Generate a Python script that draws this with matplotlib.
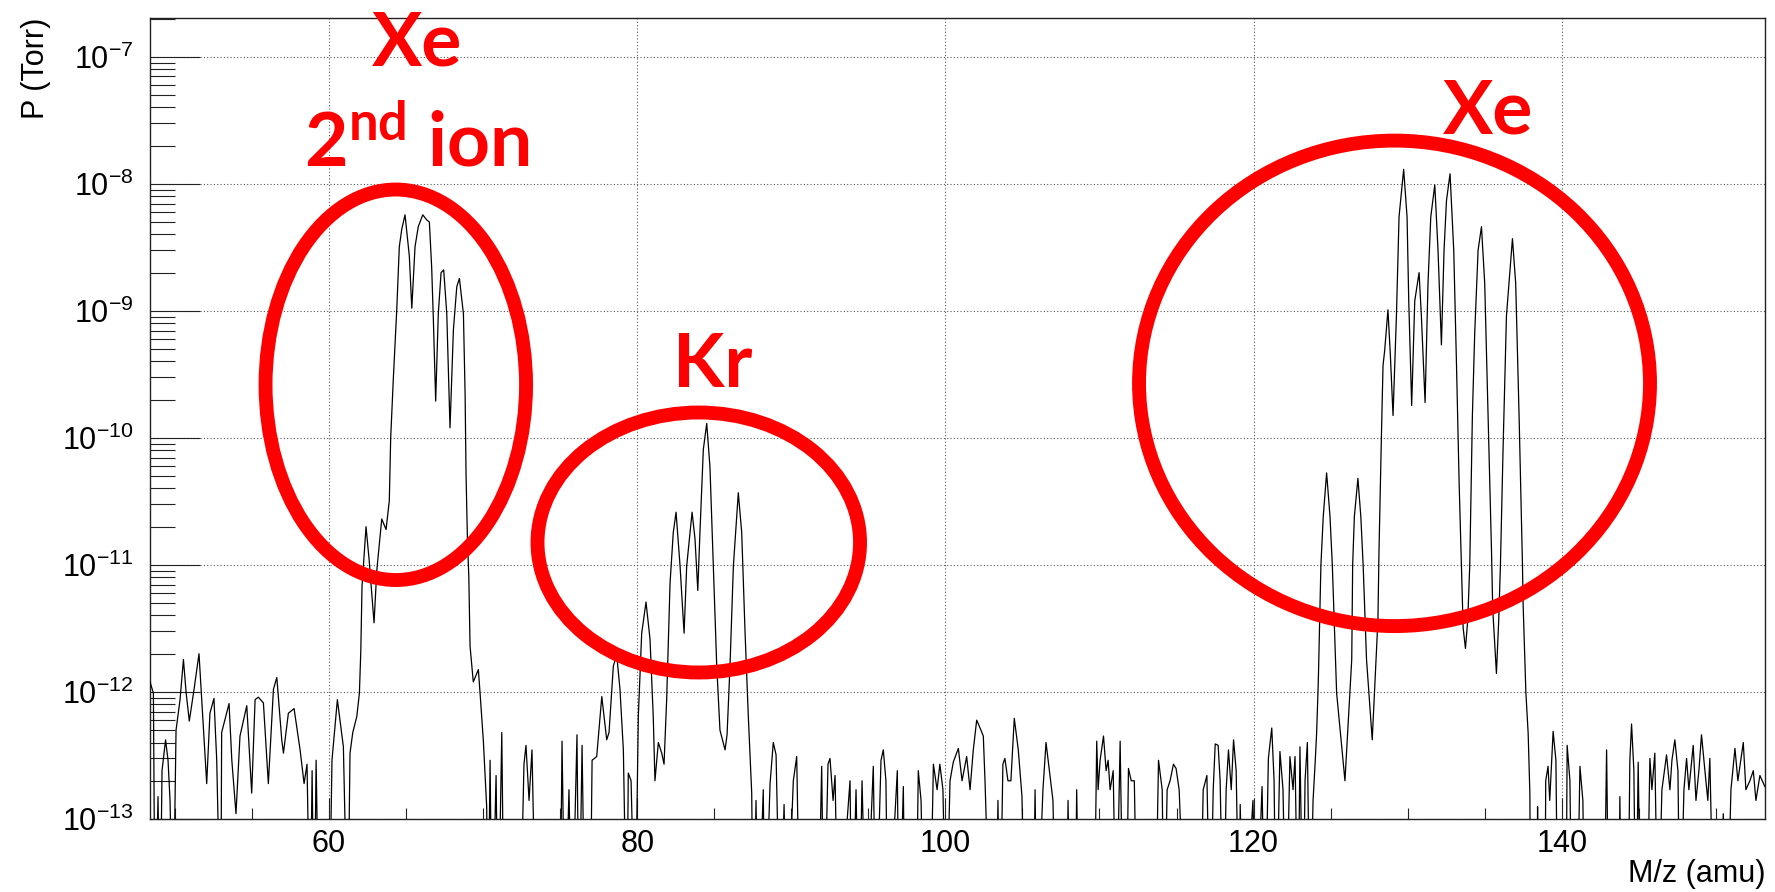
import matplotlib
matplotlib.use("Agg")
import matplotlib.pyplot as plt
import numpy as np
from matplotlib.patches import Ellipse
from matplotlib.ticker import LogLocator, MultipleLocator, NullFormatter

plt.rcParams["font.family"] = ["Liberation Sans", "DejaVu Sans"]
plt.rcParams["mathtext.default"] = "regular"
plt.rcParams["mathtext.fontset"] = "custom"
plt.rcParams["mathtext.bf"] = "Lato:bold"

# Mass spectrum, split by region.
# P in Torr; 1e-14 marks points that fall below the axis (off scale).
bg_mz = [48.38, 48.60, 48.71, 48.90, 49.03, 49.16, 49.39, 49.55, 49.68, 49.87,
         50.07, 50.33, 50.55, 50.72, 50.93, 51.24, 51.56, 51.84, 52.06, 52.27,
         52.53, 52.71, 52.97, 53.03, 53.51, 53.69, 53.96, 54.22, 54.66, 54.98,
         55.20, 55.41, 55.74, 56.06, 56.39, 56.61, 56.93, 57.04, 57.36, 57.73,
         58.12, 58.38, 58.57, 58.77, 58.90, 59.03, 59.16, 59.35, 60.00, 60.19,
         60.54, 60.93, 61.21, 61.36, 61.54, 61.80]
bg_p = [1.2e-12, 9.8e-13, 1e-14, 1.5e-13, 1e-14, 2.4e-13, 4.2e-13, 2.9e-13, 1.4e-13, 1e-14,
        5.0e-13, 8.7e-13, 1.8e-12, 1.0e-12, 5.9e-13, 1.05e-12, 2.0e-12, 5.3e-13, 1.9e-13, 6.8e-13,
        8.9e-13, 2.9e-13, 1e-14, 4.8e-13, 8.1e-13, 2.9e-13, 1.1e-13, 4.5e-13, 7.8e-13, 1.6e-13,
        8.7e-13, 9.1e-13, 8.2e-13, 1.9e-13, 1.05e-12, 1.3e-12, 4.2e-13, 3.3e-13, 6.8e-13, 7.4e-13,
        3.5e-13, 1.9e-13, 2.7e-13, 1e-14, 2.4e-13, 1e-14, 2.9e-13, 1e-14, 1e-14, 2.9e-13,
        8.7e-13, 3.7e-13, 1e-14, 3.3e-13, 4.8e-13, 6.4e-13]

xe2_mz = [61.97, 62.06, 62.14, 62.40, 62.60, 62.92, 63.10, 63.42, 63.70, 63.91,
          64.00, 64.17, 64.39, 64.56, 64.72, 64.93, 65.21, 65.37, 65.58, 65.79,
          66.08, 66.34, 66.51, 66.66, 66.77, 66.92, 67.09, 67.27, 67.44, 67.64,
          67.85, 68.07, 68.29, 68.46, 68.72, 68.83, 68.89, 68.98, 69.07, 69.15,
          69.36, 69.69, 69.80, 70.01, 70.23, 70.32, 70.45, 70.58, 70.84, 70.97]
xe2_p = [9.8e-13, 2.1e-12, 6.8e-12, 2.0e-11, 1.1e-11, 3.5e-12, 9.1e-12, 2.3e-11, 1.9e-11, 3.2e-11,
         1.0e-10, 2.9e-10, 1.0e-9, 3.2e-9, 4.4e-9, 5.7e-9, 2.7e-9, 1.05e-9, 3.2e-9, 4.6e-9,
         5.7e-9, 5.2e-9, 5.0e-9, 2.2e-9, 8.5e-10, 1.95e-10, 9.5e-10, 2.0e-9, 2.1e-9, 9.5e-10,
         1.2e-10, 7.1e-10, 1.55e-9, 1.8e-9, 9.5e-10, 2.2e-10, 5.2e-11, 1.6e-11, 8.1e-12, 2.3e-12,
         1.2e-12, 1.5e-12, 9.8e-13, 4.2e-13, 1.25e-13, 1e-14, 2.9e-13, 1e-14, 2.2e-13, 1e-14]

kr_mz = [71.21, 71.36, 72.39, 72.65, 72.78, 72.98, 73.17, 73.43, 74.99, 75.12,
         75.31, 75.57, 75.77, 76.09, 76.22, 76.42, 76.61, 76.94, 77.07, 77.37,
         77.70, 78.02, 78.17, 78.45, 78.67, 78.88, 79.10, 79.32, 79.42, 79.60,
         79.86, 80.07, 80.29, 80.57, 80.83, 81.04, 81.15, 81.37, 81.59, 81.74,
         81.91, 82.13, 82.34, 82.52, 82.78, 83.04, 83.21, 83.56, 83.75, 83.93,
         84.07, 84.29, 84.51, 84.72, 84.94, 85.16, 85.37, 85.70, 85.83, 86.02,
         86.24, 86.56, 86.78, 87.00, 87.21, 87.43, 87.53, 87.71, 87.84]
kr_p = [4.8e-13, 1e-14, 1e-14, 2.7e-13, 3.8e-13, 1.4e-13, 3.5e-13, 1e-14, 1e-14, 4.1e-13,
        1e-14, 1.7e-13, 1e-14, 4.6e-13, 1e-14, 3.8e-13, 1e-14, 1e-14, 2.9e-13, 3.1e-13,
        9.2e-13, 4.2e-13, 4.8e-13, 1.6e-12, 1.95e-12, 1.05e-12, 3.5e-13, 1e-14, 2.3e-13, 2.0e-13,
        1e-14, 6.4e-13, 2.9e-12, 5.1e-12, 2.6e-12, 6.4e-13, 2.0e-13, 4.0e-13, 3.3e-13, 2.7e-13,
        8.7e-13, 7.2e-12, 1.8e-11, 2.6e-11, 9.8e-12, 2.9e-12, 9.8e-12, 2.6e-11, 1.6e-11, 6.3e-12,
        1.8e-11, 8.1e-11, 1.3e-10, 5.9e-11, 9.8e-12, 1.6e-12, 5.0e-13, 3.5e-13, 4.6e-13, 1.6e-12,
        9.8e-12, 3.7e-11, 1.8e-11, 2.9e-12, 6.4e-13, 1.6e-13, 1e-14, 1.4e-13, 1e-14]

mid_mz = [88.18, 88.29, 88.62, 88.83, 89.01, 89.27, 89.53, 89.72, 90.13, 90.35,
          90.56, 91.73, 91.97, 92.12, 92.38, 92.51, 92.71, 92.84, 93.03, 93.81,
          93.94, 94.20, 94.39, 94.59, 94.85, 95.32, 95.49, 95.82, 95.97, 96.14,
          96.27, 96.88, 96.99, 97.27, 97.38, 98.09, 98.24, 98.42, 98.61, 99.00,
          99.22, 99.46, 99.64, 99.84, 100.04, 100.30, 100.51, 100.84, 101.08, 101.38,
          101.60, 101.81, 102.03, 102.25, 102.46, 102.57, 102.90, 103.28, 103.41, 103.54,
          103.73, 103.86, 104.06, 104.25, 104.47, 104.73, 104.97, 105.17, 105.69, 105.82,
          105.94, 106.33, 106.53, 106.79, 106.98, 107.18, 107.83, 107.96, 108.09, 108.41,
          108.52, 108.67, 109.65, 109.82, 109.91, 110.04, 110.26, 110.43, 110.56, 110.69,
          110.89, 111.08, 111.34, 111.54, 111.73, 111.88, 112.06, 112.26, 112.45, 113.62,
          113.83, 114.07, 114.20, 114.39, 114.58, 114.80, 114.97, 115.17, 115.56, 116.53,
          116.73, 116.97, 117.18, 117.38, 117.51, 117.70, 117.83, 118.03, 118.22, 118.37,
          118.55, 118.70, 118.87, 119.07, 119.13, 119.38, 119.96, 120.16, 120.55, 120.74,
          120.96, 121.18, 121.33, 121.46, 121.71, 121.91, 122.10, 122.36, 122.56, 122.69,
          122.88, 123.01, 123.21, 123.34, 123.49, 123.66, 123.86, 123.99]
mid_p = [1.7e-13, 1e-14, 1.9e-13, 4.0e-13, 3.2e-13, 1e-14, 1.3e-13, 1e-14, 2.0e-13, 3.1e-13,
         1e-14, 1e-14, 2.6e-13, 1e-14, 2.7e-13, 3.0e-13, 1.4e-13, 2.2e-13, 1e-14, 2.0e-13,
         1e-14, 1.7e-13, 1e-14, 2.0e-13, 1e-14, 2.6e-13, 1e-14, 2.9e-13, 3.5e-13, 2.0e-13,
         1e-14, 2.4e-13, 1e-14, 1.8e-13, 1e-14, 1e-14, 2.4e-13, 1.4e-13, 1e-14, 1e-14,
         2.7e-13, 1.7e-13, 2.7e-13, 1.7e-13, 1e-14, 2.0e-13, 2.8e-13, 3.6e-13, 2.0e-13, 3.1e-13,
         1.7e-13, 3.5e-13, 6.0e-13, 5.2e-13, 4.5e-13, 2.0e-13, 1e-14, 1e-14, 1.4e-13, 1e-14,
         2.7e-13, 3.0e-13, 2.0e-13, 2.0e-13, 6.2e-13, 3.5e-13, 1.5e-13, 1e-14, 1e-14, 1.7e-13,
         1e-14, 1.7e-13, 4.0e-13, 2.2e-13, 1.4e-13, 1e-14, 1e-14, 1.4e-13, 1e-14, 1e-14,
         1.7e-13, 1e-14, 1e-14, 4.1e-13, 1.7e-13, 2.9e-13, 4.5e-13, 2.4e-13, 2.9e-13, 1.7e-13,
         2.4e-13, 1e-14, 4.1e-13, 1e-14, 1e-14, 2.5e-13, 2.0e-13, 2.0e-13, 1e-14, 1e-14,
         2.9e-13, 1.7e-13, 1e-14, 1.7e-13, 2.0e-13, 2.7e-13, 2.5e-13, 1.7e-13, 1e-14, 1e-14,
         1.7e-13, 2.2e-13, 1e-14, 1.7e-13, 3.9e-13, 3.8e-13, 2.0e-13, 1e-14, 1.7e-13, 3.5e-13,
         1.7e-13, 4.2e-13, 2.4e-13, 1e-14, 1.3e-13, 1e-14, 1.4e-13, 1e-14, 1.8e-13, 1e-14,
         3.0e-13, 5.2e-13, 2.0e-13, 1e-14, 3.4e-13, 1.7e-13, 1e-14, 3.1e-13, 1.7e-13, 3.1e-13,
         1e-14, 3.7e-13, 1e-14, 2.0e-13, 4.0e-13, 1e-14, 1.4e-13, 2.7e-13]

xe_mz = [124.09, 124.20, 124.26, 124.37, 124.52, 124.74, 124.96, 125.11, 125.39, 125.93,
         126.37, 126.43, 126.54, 126.77, 126.96, 127.11, 127.33, 127.70, 128.07, 128.14,
         128.29, 128.40, 128.51, 128.72, 128.88, 129.05, 129.27, 129.44, 129.74, 129.96,
         130.07, 130.26, 130.46, 130.74, 130.89, 131.13, 131.32, 131.50, 131.76, 131.97,
         132.19, 132.36, 132.52, 132.75, 132.99, 133.17, 133.34, 133.49, 133.60, 133.75,
         133.90, 134.03, 134.20, 134.35, 134.57, 134.79, 135.00, 135.22, 135.44, 135.52,
         135.76, 135.91, 136.02, 136.19, 136.41, 136.80, 137.01, 137.23, 137.45, 137.49,
         137.67, 137.82, 137.93, 137.99]
xe_p = [4.7e-13, 1.2e-12, 2.6e-12, 1.0e-11, 2.4e-11, 5.3e-11, 2.4e-11, 1.0e-11, 9.8e-13, 2.0e-13,
        1.8e-12, 1.0e-11, 2.4e-11, 4.8e-11, 2.4e-11, 1.0e-11, 1.8e-12, 4.2e-13, 3.7e-12, 1.3e-11,
        9.6e-11, 3.7e-10, 4.9e-10, 1.02e-9, 4.4e-10, 1.5e-10, 9.1e-10, 5.5e-9, 1.3e-8, 5.5e-9,
        1.2e-9, 1.8e-10, 1.2e-9, 2.0e-9, 9.1e-10, 1.9e-10, 1.65e-9, 5.5e-9, 9.8e-9, 3.0e-9,
        5.4e-10, 3.0e-9, 7.4e-9, 1.2e-8, 3.0e-9, 3.7e-10, 4.4e-11, 1.0e-11, 3.2e-12, 2.2e-12,
        3.7e-12, 1.0e-11, 1.5e-10, 6.6e-10, 3.0e-9, 4.6e-9, 1.65e-9, 1.5e-10, 1.3e-11, 4.5e-12,
        1.4e-12, 3.7e-12, 1.0e-11, 8.1e-11, 9.1e-10, 3.7e-9, 1.65e-9, 1.5e-10, 1.0e-11, 5.0e-12,
        1.0e-12, 4.7e-13, 1.6e-13, 1e-14]

hi_mz = [138.38, 138.43, 138.51, 138.90, 138.96, 139.11, 139.22, 139.44, 139.62, 139.75,
         140.27, 140.35, 140.53, 140.66, 140.98, 141.18, 141.37, 141.50, 142.73, 142.91,
         143.06, 143.70, 143.77, 143.90, 144.29, 144.42, 144.53, 144.68, 144.81, 144.96,
         145.13, 145.52, 145.72, 145.85, 146.04, 146.24, 146.50, 146.80, 147.02, 147.15,
         147.34, 147.54, 147.67, 147.93, 148.10, 148.25, 148.53, 148.71, 148.90, 149.07,
         149.29, 149.48, 149.61, 149.87, 150.26, 150.48, 150.72, 150.98, 151.24, 151.43,
         151.78, 151.95, 152.21, 152.43, 152.60, 152.86, 153.18]
hi_p = [1e-14, 1.25e-13, 1e-14, 1e-14, 2.0e-13, 2.6e-13, 1.4e-13, 4.9e-13, 2.9e-13, 1e-14,
        1e-14, 3.8e-13, 2.0e-13, 1e-14, 1e-14, 2.6e-13, 1.4e-13, 1e-14, 1e-14, 3.5e-13,
        1e-14, 1e-14, 1.5e-13, 1e-14, 1e-14, 2.9e-13, 5.6e-13, 2.4e-13, 1e-14, 2.8e-13,
        1e-14, 1e-14, 3.0e-13, 1.7e-13, 3.3e-13, 1e-14, 1.7e-13, 3.2e-13, 1.7e-13, 2.9e-13,
        4.2e-13, 2.4e-13, 1e-14, 1.7e-13, 3.0e-13, 1.7e-13, 3.8e-13, 1.4e-13, 2.4e-13, 4.6e-13,
        2.4e-13, 1.4e-13, 3.0e-13, 1e-14, 1e-14, 1.1e-13, 1e-14, 1.7e-13, 3.6e-13, 2.0e-13,
        4.0e-13, 1.7e-13, 2.0e-13, 2.4e-13, 1.4e-13, 2.2e-13, 1.8e-13]

labels = ["Xe", r"$\mathbf{2^{nd}}$ ion", "Kr", "Xe"]


def build_spectrum():
    parts = [(bg_mz, bg_p), (xe2_mz, xe2_p), (kr_mz, kr_p),
             (mid_mz, mid_p), (xe_mz, xe_p), (hi_mz, hi_p)]
    for m, p in parts:
        assert len(m) == len(p), (m[0], len(m), len(p))
    mz = np.concatenate([m for m, _ in parts])
    p = np.concatenate([p for _, p in parts])
    return mz, p


def main():
    mz, p = build_spectrum()

    fig = plt.figure(figsize=(17.75, 8.92), dpi=100)
    ax = fig.add_axes([150 / 1775, 1 - 819 / 892, 1615 / 1775, 801 / 892])

    ax.plot(mz, p, color="black", lw=0.9, zorder=3)

    ax.set_yscale("log")
    ax.set_xlim(48.38, 153.19)
    ax.set_ylim(1e-13, 2.02e-7)

    ax.xaxis.set_major_locator(MultipleLocator(20))
    ax.xaxis.set_minor_locator(MultipleLocator(5))
    ax.yaxis.set_major_locator(LogLocator(base=10, numticks=20))
    ax.yaxis.set_minor_locator(LogLocator(base=10, subs=np.arange(2, 10), numticks=20))
    ax.yaxis.set_minor_formatter(NullFormatter())

    ax.tick_params(axis="both", which="both", direction="in", top=False, right=False,
                   color="#222222", width=0.8, labelsize=22)
    ax.tick_params(axis="y", which="major", length=36, pad=12)
    ax.tick_params(axis="y", which="minor", length=18)
    ax.tick_params(axis="x", which="major", length=15, pad=7)
    ax.tick_params(axis="x", which="minor", length=8)

    ax.grid(which="major", linestyle=(0, (1, 2)), color="#555555", lw=0.8, zorder=1)
    for s in ax.spines.values():
        s.set_linewidth(1.0)
        s.set_color("#222222")

    ax.set_ylabel("P (Torr)", fontsize=22, loc="top")
    ax.yaxis.set_label_coords(-0.061, 1.0)
    ax.set_xlabel("M/z (amu)", fontsize=22, loc="right")
    ax.xaxis.set_label_coords(1.0, -0.050)

    # red annotations (axes fractions)
    ellipses = [(0.1522, 0.5421, 0.1613, 0.4875),
                (0.3398, 0.3452, 0.1997, 0.3246),
                (0.7706, 0.5439, 0.3164, 0.6061)]
    for cx, cy, w, h in ellipses:
        ax.add_patch(Ellipse((cx, cy), w, h, transform=ax.transAxes, fill=False,
                             ec="#ff0000", lw=10, zorder=4, clip_on=False))

    text_pos = [(0.1653, 0.9413), (0.1656, 0.814), (0.3486, 0.5393), (0.8288, 0.8552)]
    for (tx, ty), lab in zip(text_pos, labels):
        ax.text(tx, ty, lab, transform=ax.transAxes, ha="center", va="baseline",
                color="#ff0000", fontsize=54, fontweight="bold", family="Lato",
                zorder=5)

    fig.savefig("out.png", dpi=100)
    plt.close(fig)


if __name__ == "__main__":
    main()
